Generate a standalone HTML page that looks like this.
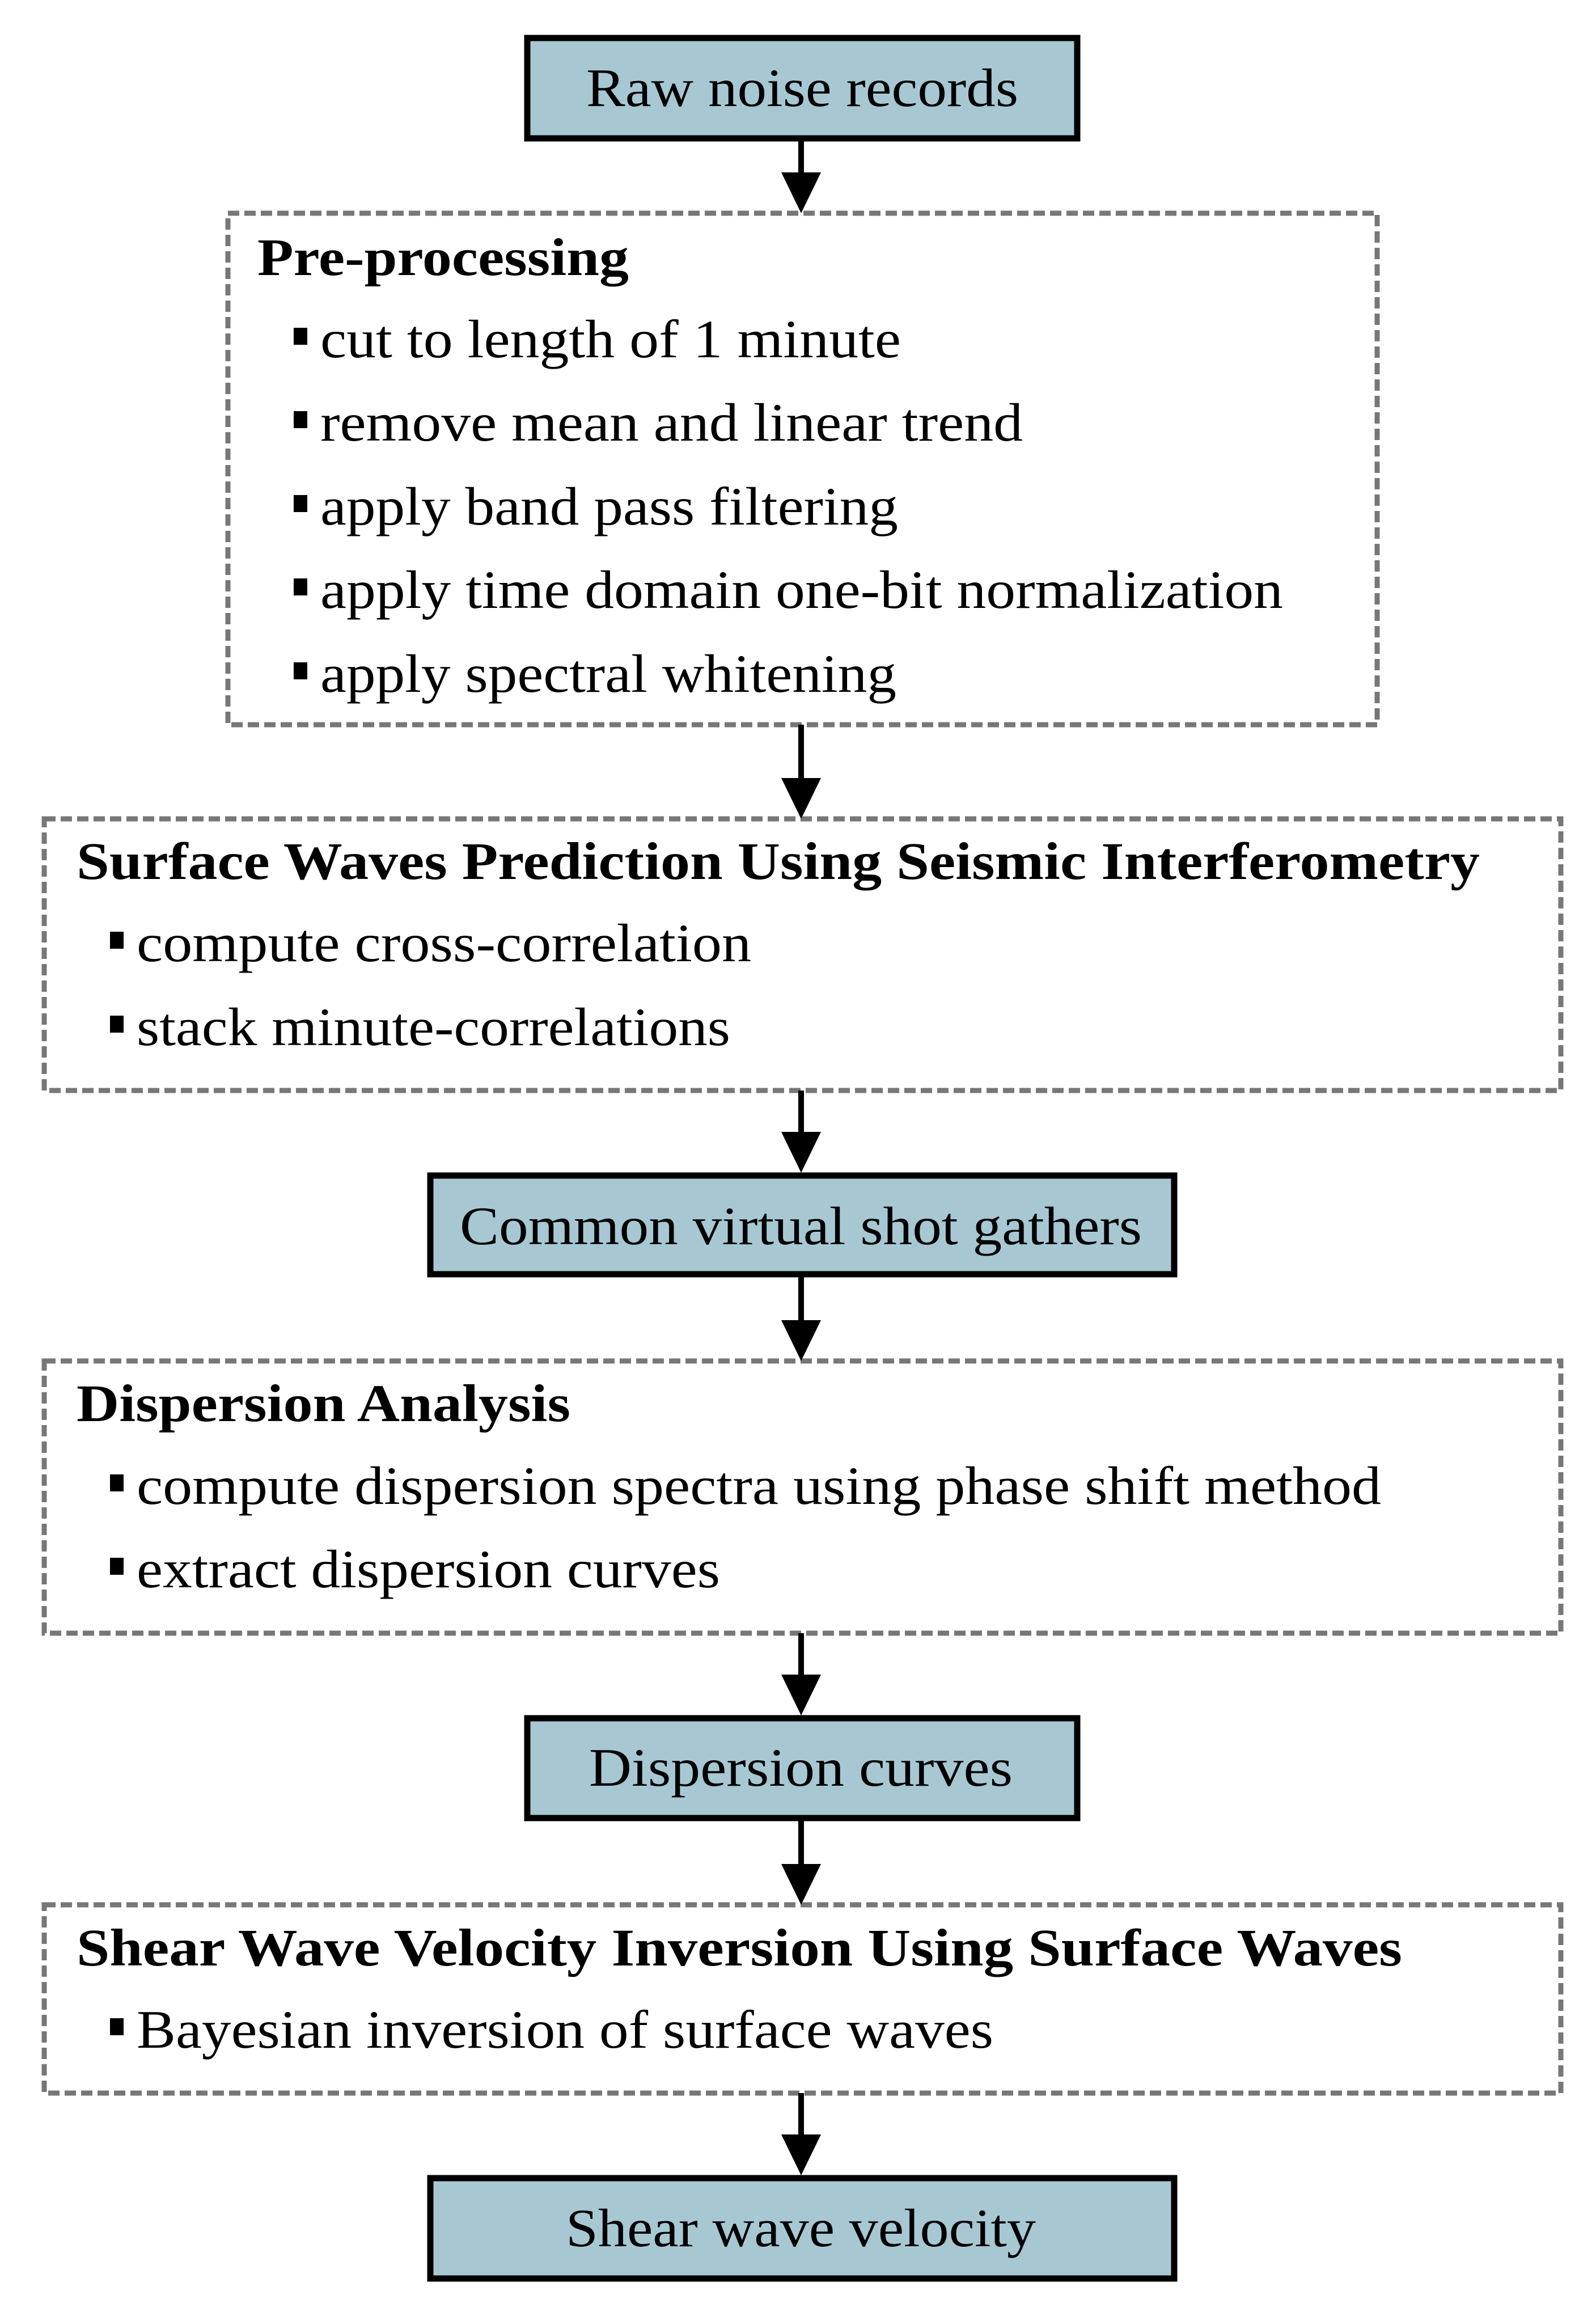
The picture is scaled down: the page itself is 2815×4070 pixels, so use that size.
<!DOCTYPE html>
<html><head><meta charset="utf-8"><style>
html,body{margin:0;padding:0;background:#fff}
svg{display:block}
text{font-family:"Times New Roman","Liberation Serif",serif;fill:#000}
.b{font-weight:bold}
</style></head><body>
<svg width="2815" height="4070" viewBox="0 0 2815 4070" xmlns="http://www.w3.org/2000/svg">
<defs>
<g id="ah"><polygon points="-35,-72 35,-72 0,0" fill="#000"/></g>
</defs>
<g fill="#a7c8d3" stroke="#000" stroke-width="11">
<rect x="930" y="67" width="970" height="177"/>
<rect x="759" y="2073" width="1312" height="174"/>
<rect x="930" y="3030" width="970" height="176"/>
<rect x="759" y="3841" width="1312" height="177"/>
</g>
<g fill="none" stroke="#777" stroke-width="9" stroke-dasharray="20 9">
<rect x="402" y="376" width="2027" height="902"/>
<rect x="78" y="1444" width="2675" height="479"/>
<rect x="78" y="2400" width="2675" height="480"/>
<rect x="78" y="3359" width="2675" height="332"/>
</g>
<g stroke="#000" stroke-width="10">
<line x1="1413" y1="249" x2="1413" y2="320"/>
<line x1="1413" y1="1278" x2="1413" y2="1390"/>
<line x1="1413" y1="1923" x2="1413" y2="2010"/>
<line x1="1413" y1="2252" x2="1413" y2="2345"/>
<line x1="1413" y1="2880" x2="1413" y2="2970"/>
<line x1="1413" y1="3211" x2="1413" y2="3305"/>
<line x1="1413" y1="3691" x2="1413" y2="3780"/>
</g>
<use href="#ah" x="1413" y="376"/>
<use href="#ah" x="1413" y="1444"/>
<use href="#ah" x="1413" y="2068"/>
<use href="#ah" x="1413" y="2400"/>
<use href="#ah" x="1413" y="3025"/>
<use href="#ah" x="1413" y="3359"/>
<use href="#ah" x="1413" y="3836"/>
<g font-size="95">
<text x="1034" y="187" textLength="762" lengthAdjust="spacingAndGlyphs">Raw noise records</text>
<text x="811" y="2194" textLength="1203" lengthAdjust="spacingAndGlyphs">Common virtual shot gathers</text>
<text x="1039" y="3149" textLength="747" lengthAdjust="spacingAndGlyphs">Dispersion curves</text>
<text x="998" y="3961" textLength="829" lengthAdjust="spacingAndGlyphs">Shear wave velocity</text>
</g>
<g font-size="93" class="b">
<text class="b" x="454" y="485" textLength="655" lengthAdjust="spacingAndGlyphs">Pre-processing</text>
<text class="b" x="135" y="1550" textLength="2475" lengthAdjust="spacingAndGlyphs">Surface Waves Prediction Using Seismic Interferometry</text>
<text class="b" x="135" y="2506" textLength="871" lengthAdjust="spacingAndGlyphs">Dispersion Analysis</text>
<text class="b" x="135" y="3466" textLength="2338" lengthAdjust="spacingAndGlyphs">Shear Wave Velocity Inversion Using Surface Waves</text>
</g>
<g font-size="95">
<text x="565" y="630" textLength="1024" lengthAdjust="spacingAndGlyphs">cut to length of 1 minute</text>
<text x="565" y="777" textLength="1239" lengthAdjust="spacingAndGlyphs">remove mean and linear trend</text>
<text x="565" y="925" textLength="1019" lengthAdjust="spacingAndGlyphs">apply band pass filtering</text>
<text x="565" y="1072" textLength="1698" lengthAdjust="spacingAndGlyphs">apply time domain one-bit normalization</text>
<text x="565" y="1220" textLength="1016" lengthAdjust="spacingAndGlyphs">apply spectral whitening</text>
<text x="241" y="1695" textLength="1084" lengthAdjust="spacingAndGlyphs">compute cross-correlation</text>
<text x="241" y="1843" textLength="1047" lengthAdjust="spacingAndGlyphs">stack minute-correlations</text>
<text x="241" y="2652" textLength="2195" lengthAdjust="spacingAndGlyphs">compute dispersion spectra using phase shift method</text>
<text x="241" y="2799" textLength="1029" lengthAdjust="spacingAndGlyphs">extract dispersion curves</text>
<text x="241" y="3611" textLength="1511" lengthAdjust="spacingAndGlyphs">Bayesian inversion of surface waves</text>
</g>
<g fill="#000">
<rect x="518" y="578" width="24" height="30"/>
<rect x="518" y="725" width="24" height="30"/>
<rect x="518" y="873" width="24" height="30"/>
<rect x="518" y="1020" width="24" height="30"/>
<rect x="518" y="1168" width="24" height="30"/>
<rect x="194" y="1643" width="24" height="30"/>
<rect x="194" y="1791" width="24" height="30"/>
<rect x="194" y="2600" width="24" height="30"/>
<rect x="194" y="2747" width="24" height="30"/>
<rect x="194" y="3559" width="24" height="30"/>
</g>
</svg>
</body></html>
